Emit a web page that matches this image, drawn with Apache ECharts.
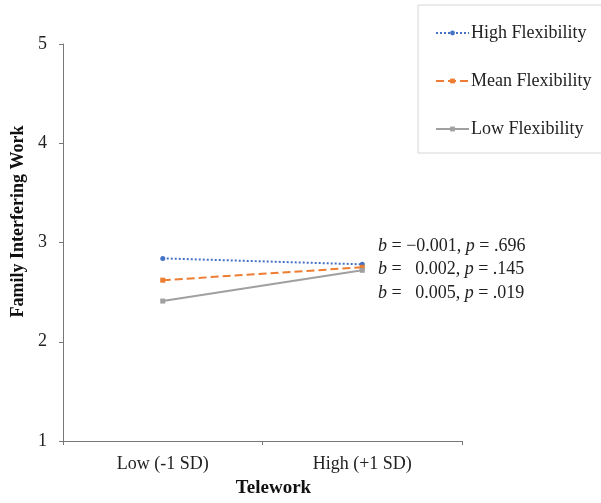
<!DOCTYPE html>
<html><head><meta charset="utf-8">
<script src="https://cdn.jsdelivr.net/npm/echarts@6/dist/echarts.min.js"></script>
<style>html,body{margin:0;padding:0;background:#fff}#c{width:601px;height:503px}</style>
</head><body><div id="c"></div>
<script>
const categories = ['Low (-1 SD)', 'High (+1 SD)'];
const highFlex = [2.84, 2.78];
const meanFlex = [2.62, 2.75];
const lowFlex = [2.41, 2.72];
const seriesNames = ['High Flexibility', 'Mean Flexibility', 'Low Flexibility'];
const annotations = [
  ['\u22120.001', '.696'],
  ['  0.002', '.145'],
  ['  0.005', '.019']
];
const F = 'Liberation Serif, Times New Roman, serif';
const chart = echarts.init(document.getElementById('c'));
const mk = (name, data, color, type, sym) => ({
  name, type: 'line', data, symbol: sym, symbolSize: 5,
  itemStyle: { color }, lineStyle: { color, type, width: 2 }, animation: false
});
chart.setOption({
  animation: false,
  textStyle: { fontFamily: F },
  grid: { left: 63, right: 139, top: 44, bottom: 60 },
  xAxis: {
    type: 'category', data: categories, boundaryGap: true,
    name: 'Telework', nameLocation: 'middle', nameGap: 38,
    nameTextStyle: { fontFamily: F, fontWeight: 'bold', fontSize: 19, color: '#111', padding: [0, 0, 0, 22] },
    axisLine: { lineStyle: { color: '#777' } },
    axisTick: { show: true, length: 4, lineStyle: { color: '#777' } },
    axisLabel: { fontFamily: F, fontSize: 18, color: '#222', margin: 14 }
  },
  yAxis: {
    type: 'value', min: 1, max: 5, interval: 1,
    name: 'Family Interfering Work', nameLocation: 'middle', nameGap: 36,
    nameTextStyle: { fontFamily: F, fontWeight: 'bold', fontSize: 18, color: '#111', padding: [0, 0, 0, 42] },
    axisLine: { show: true, lineStyle: { color: '#777' } },
    axisTick: { show: true, length: 4, lineStyle: { color: '#777' } },
    splitLine: { show: false },
    axisLabel: { fontFamily: F, fontSize: 18, color: '#222', margin: 16 }
  },
  legend: {
    orient: 'vertical', left: 418, top: 5, itemGap: 30,
    itemWidth: 33, itemHeight: 6,
    padding: [19, 20, 15, 17],
    borderColor: '#d6d6d6', borderWidth: 1,
    textStyle: { fontFamily: F, fontSize: 18, color: '#222', padding: [0, 0, 0, -3] },
    data: seriesNames
  },
  graphic: annotations.map((a, i) => ({
    type: 'text', left: 378, top: 237 + i * 23.5,
    style: {
      text: '{i|b} = ' + a[0] + ', {i|p} = ' + a[1],
      fontFamily: F, fontSize: 18, fill: '#222',
      rich: { i: { fontStyle: 'italic', fontFamily: F, fontSize: 18, color: '#222' } }
    }
  })),
  series: [
    mk(seriesNames[0], highFlex, '#4472C4', 'dotted', 'circle'),
    mk(seriesNames[1], meanFlex, '#ED7D31', 'dashed', 'rect'),
    mk(seriesNames[2], lowFlex, '#A0A0A0', 'solid', 'rect')
  ]
});
</script></body></html>
